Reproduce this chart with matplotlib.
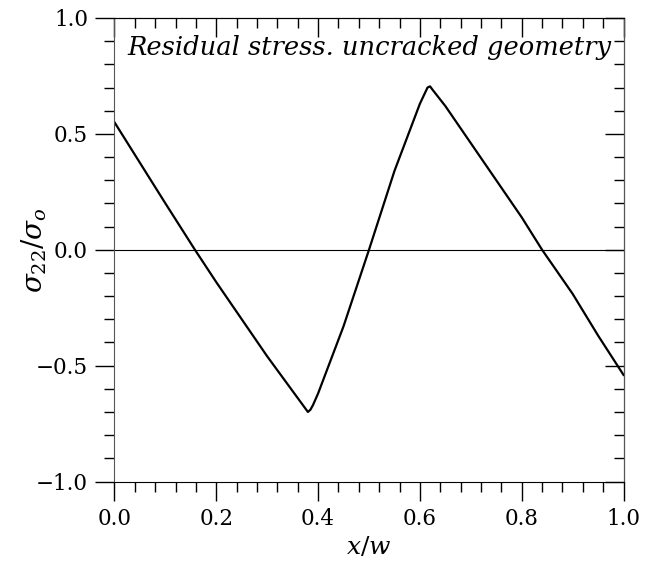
import matplotlib
matplotlib.use("Agg")
import matplotlib.pyplot as plt
from matplotlib.ticker import MultipleLocator, NullFormatter

x_vals = [0.0, 0.05, 0.1, 0.158, 0.2, 0.25, 0.3, 0.35, 0.38, 0.385, 0.39, 0.4,
          0.45, 0.5, 0.55, 0.6, 0.615, 0.62, 0.625, 0.65, 0.7, 0.75, 0.8, 0.84,
          0.9, 0.95, 1.0]
stress = [0.55, 0.375, 0.20, 0.0, -0.14, -0.30, -0.46, -0.61, -0.70, -0.69, -0.67, -0.62,
          -0.33, 0.0, 0.34, 0.63, 0.70, 0.705, 0.69, 0.62, 0.46, 0.30, 0.14, 0.0,
          -0.19, -0.37, -0.54]
title_text = "Residual stress. uncracked geometry"

plt.rcParams['font.family'] = ['DejaVu Serif']
plt.rcParams['mathtext.fontset'] = 'dejavuserif'

W, H = 656, 565
L, R, T, B = 114.5, 623.5, 18, 481.5
fig = plt.figure(figsize=(W/100, H/100), dpi=100)
ax = fig.add_axes([L/W, (H-B)/H, (R-L)/W, (B-T)/H])
ax.plot(x_vals, stress, color='black', lw=1.6)
ax.axhline(0, color='black', lw=0.8)
ax.set_xlim(0, 1)
ax.set_ylim(-1, 1)
ax.xaxis.set_major_locator(MultipleLocator(0.2))
ax.xaxis.set_minor_locator(MultipleLocator(0.04))
ax.yaxis.set_major_locator(MultipleLocator(0.5))
ax.yaxis.set_minor_locator(MultipleLocator(0.1))
ax.tick_params(which='both', direction='out', labelsize=15.5, pad=5)
ax.tick_params(which='major', length=14, width=1)
ax.tick_params(which='minor', length=7, width=1)
ax.set_xticklabels([f"{v:.1f}" for v in ax.get_xticks()])
ax.set_yticklabels([f"{v:.1f}".replace('-', '\u2212') for v in ax.get_yticks()])

top = ax.secondary_xaxis('top')
top.xaxis.set_major_locator(MultipleLocator(0.2))
top.xaxis.set_minor_locator(MultipleLocator(0.04))
top.xaxis.set_major_formatter(NullFormatter())
top.tick_params(which='both', direction='in')
top.tick_params(which='major', length=14, width=1)
top.tick_params(which='minor', length=7, width=1)

right = ax.secondary_yaxis('right')
right.yaxis.set_major_locator(MultipleLocator(0.5))
right.yaxis.set_minor_locator(MultipleLocator(0.1))
right.yaxis.set_major_formatter(NullFormatter())
right.tick_params(which='both', direction='in')
right.tick_params(which='major', length=14, width=1)
right.tick_params(which='minor', length=7, width=1)

for s in ('left', 'right'):
    ax.spines[s].set_color('#555555')
ax.set_xlabel(r"$x/w$", fontsize=18, labelpad=4)
ax.set_ylabel(r"$\sigma_{22}/\sigma_{o}$", fontsize=20)
ax.yaxis.set_label_coords(-0.128, 0.5)
ax.text(0.5, 0.936, title_text, transform=ax.transAxes, ha='center', va='center',
        fontsize=18.5, style='italic')
fig.savefig("out.png", dpi=100)
